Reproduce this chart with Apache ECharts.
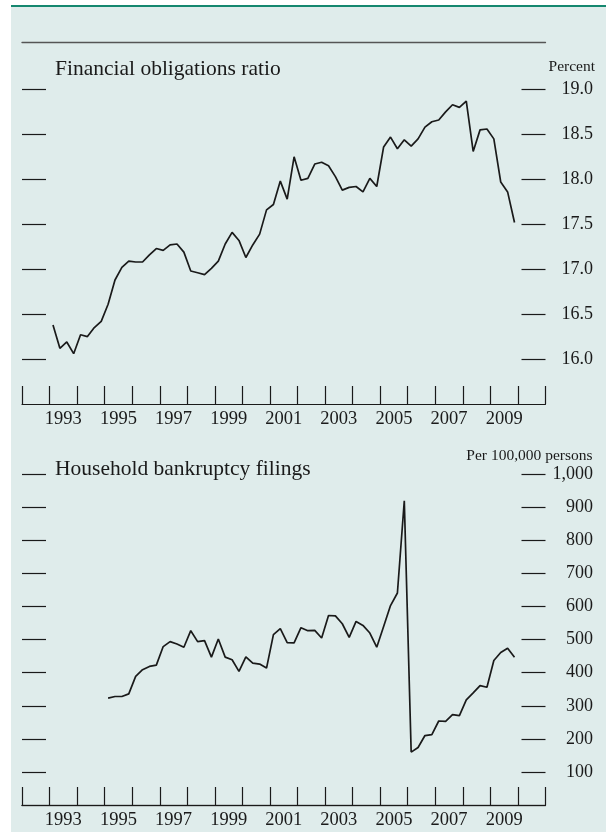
<!DOCTYPE html>
<html><head><meta charset="utf-8">
<script src="https://cdn.jsdelivr.net/npm/echarts@6/dist/echarts.min.js"></script>
<style>
html,body{margin:0;padding:0;background:#fff;width:606px;height:834px;overflow:hidden}
#bg{position:absolute;left:11px;top:7px;width:595px;height:825px;background:#dfeceb}
#rule{position:absolute;left:11px;top:4.5px;width:595px;height:2.5px;background:#15876f}
#chart{position:absolute;left:0;top:0;width:606px;height:834px}
</style></head><body>
<div id="bg"></div><div id="rule"></div><div id="chart"></div>
<script>
// ---- data ----
const yearCategories = ['1992','1993','1994','1995','1996','1997','1998','1999','2000','2001','2002','2003','2004','2005','2006','2007','2008','2009','2010'];
const yearLabels = ['1993','1995','1997','1999','2001','2003','2005','2007','2009'];

const forFirstQuarter = [1993, 1];
const forValues = [
  16.38, 16.12, 16.19, 16.06,
  16.27, 16.25, 16.35, 16.42,
  16.61, 16.88, 17.02, 17.09,
  17.08, 17.08, 17.16, 17.23,
  17.21, 17.27, 17.28, 17.19,
  16.98, 16.96, 16.94, 17.01,
  17.09, 17.28, 17.41, 17.32,
  17.13, 17.27, 17.39, 17.66,
  17.72, 17.98, 17.78, 18.25,
  17.99, 18.01, 18.17, 18.19,
  18.15, 18.03, 17.88, 17.91,
  17.92, 17.86, 18.01, 17.92,
  18.36, 18.47, 18.34, 18.44,
  18.37, 18.45, 18.58, 18.64,
  18.66, 18.75, 18.83, 18.80,
  18.87, 18.31, 18.55, 18.56,
  18.45, 17.97, 17.86, 17.52
];
const forTicks = [16.0, 16.5, 17.0, 17.5, 18.0, 18.5, 19.0];

const bankFirstQuarter = [1995, 1];
const bankValues = [
  323, 328, 328, 336,
  389, 409, 419, 423,
  479, 494, 487, 477,
  527, 494, 497, 447,
  502, 447, 439, 404,
  448, 429, 426, 414,
  515, 533, 491, 490,
  536, 527, 528, 505,
  573, 572, 548, 507,
  555, 543, 520, 477,
  540, 603, 641, 920,
  160, 174, 210, 213,
  254, 253, 273, 270,
  318, 339, 361, 356,
  437, 461, 474, 447
];
const bankTicks = [100, 200, 300, 400, 500, 600, 700, 800, 900, 1000];

// quarter -> decimal year at mid-quarter
function toSeries(first, values) {
  return values.map((v, i) => {
    const q = first[1] - 1 + i;
    const yr = first[0] + Math.floor(q / 4);
    const qq = q % 4;
    return [yr + (qq + 0.5) / 4, v];
  });
}

const FONT = '"Liberation Serif", "Times New Roman", serif';
const INK = '#1a1a1a';

const chart = echarts.init(document.getElementById('chart'), null, {width: 606, height: 834});

function panelAxes(gi, yMin, yMax, ticks, fmt) {
  return {
    x: [
      { gridIndex: gi, type: 'value', min: 1992, max: 2011, position: 'top',
        axisLine: { show: true, lineStyle: { color: '#555', width: 1.3 } },
        axisTick: { show: false }, axisLabel: { show: false }, splitLine: { show: false } },
      { gridIndex: gi, type: 'category', data: yearCategories, boundaryGap: true, position: 'bottom',
        axisLine: { show: true, lineStyle: { color: INK, width: 1.2 } },
        axisTick: { show: true, inside: true, length: 18, interval: 0, alignWithLabel: false,
          lineStyle: { color: INK, width: 1.2 } },
        axisLabel: { show: true, interval: (idx, val) => yearLabels.includes(val),
          margin: 5.5, fontSize: 18.5, fontFamily: FONT, color: INK },
        splitLine: { show: false } }
    ],
    y: [
      { gridIndex: gi, type: 'value', min: yMin, max: yMax, position: 'left',
        axisLine: { show: false },
        axisTick: { show: true, inside: true, length: 24, customValues: ticks,
          lineStyle: { color: INK, width: 1.2 } },
        axisLabel: { show: false }, splitLine: { show: false } },
      { gridIndex: gi, type: 'value', min: yMin, max: yMax, position: 'right',
        axisLine: { show: false },
        axisTick: { show: true, inside: true, length: 24, customValues: ticks,
          lineStyle: { color: INK, width: 1.2 } },
        axisLabel: { show: true, customValues: ticks, align: 'right', margin: 47.5,
          fontSize: 18, fontFamily: FONT, color: INK, formatter: fmt },
        splitLine: { show: false } }
    ]
  };
}

const p1 = panelAxes(0, 15.5, 19.52, forTicks, v => v.toFixed(1));
const p2 = panelAxes(1, 0, 1091.5, bankTicks, v => v.toLocaleString('en-US'));

chart.setOption({
  animation: false,
  backgroundColor: 'transparent',
  title: [
    { text: 'Financial obligations ratio', left: 55, top: 58, padding: 0,
      textStyle: { fontSize: 21.5, fontFamily: FONT, fontWeight: 'normal', color: INK } },
    { text: 'Percent', right: 11, top: 59.3, padding: 0,
      textStyle: { fontSize: 15.5, fontFamily: FONT, fontWeight: 'normal', color: INK } },
    { text: 'Household bankruptcy filings', left: 55, top: 458, padding: 0,
      textStyle: { fontSize: 21.5, fontFamily: FONT, fontWeight: 'normal', color: INK } },
    { text: 'Per 100,000 persons', right: 13.5, top: 448.3, padding: 0,
      textStyle: { fontSize: 15.5, fontFamily: FONT, fontWeight: 'normal', color: INK } }
  ],
  grid: [
    { left: 22, width: 523.5, top: 42.7, height: 361.3 },
    { left: 22, width: 523.5, top: 444, height: 361 }
  ],
  xAxis: [...p1.x, ...p2.x],
  yAxis: [...p1.y, ...p2.y],
  series: [
    { type: 'line', xAxisIndex: 0, yAxisIndex: 0, data: toSeries(forFirstQuarter, forValues),
      showSymbol: false, symbol: 'none', lineStyle: { color: INK, width: 1.7 }, silent: true },
    { type: 'line', xAxisIndex: 2, yAxisIndex: 2, data: toSeries(bankFirstQuarter, bankValues),
      showSymbol: false, symbol: 'none', lineStyle: { color: INK, width: 1.7 }, silent: true }
  ]
});
</script>
</body></html>
